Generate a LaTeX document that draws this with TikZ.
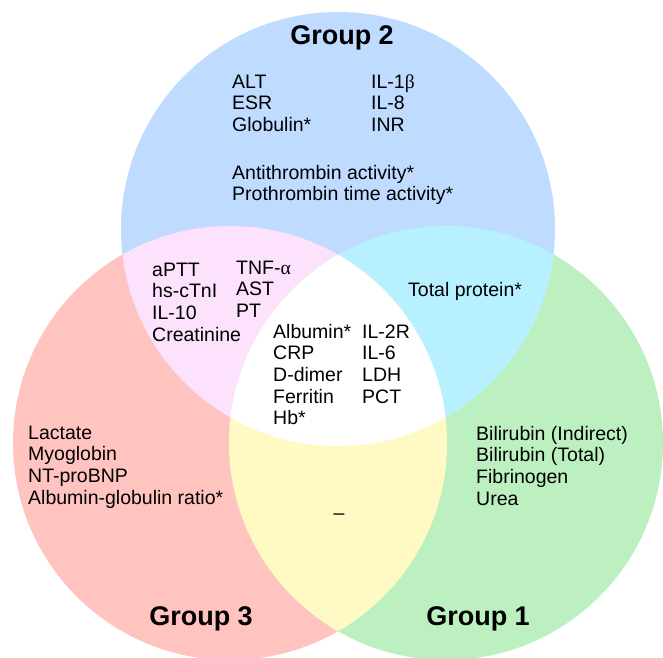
\documentclass[tikz,border=0pt]{standalone}
\usepackage{fontspec}
\setmainfont{Liberation Sans}
\newfontfamily\grkfont{Liberation Serif}

\definecolor{blueii}{RGB}{191,219,255}
\definecolor{rediii}{RGB}{255,196,192}
\definecolor{greeni}{RGB}{189,240,192}
\definecolor{pinkiiiii}{RGB}{252,226,252}
\definecolor{cyanii}{RGB}{183,241,255}
\definecolor{yellowiii}{RGB}{255,250,196}

\begin{document}
\begin{tikzpicture}
  [x=1pt,y=-1pt,
   every node/.style={inner sep=0pt,anchor=base west,align=left,
     font=\fontsize{19.5}{21.7}\selectfont},
   title/.style={anchor=base,font=\fontsize{27}{30}\selectfont\bfseries}]
  \useasboundingbox (0,0) rectangle (663,657);
  \clip (0,0) rectangle (663,657);

  \coordinate (c2) at (338,229);
  \coordinate (c3) at (230,443);
  \coordinate (c1) at (446,443);

  \fill [blueii] (c2) circle (217pt);
  \fill [rediii] (c3) circle (217pt);
  \fill [greeni] (c1) circle (217pt);

  \foreach \from/\to/\col in {c2/c3/pinkiiiii,c2/c1/cyanii,c3/c1/yellowiii}
    {
    \begin{scope}
      \clip (\from) circle (217pt);
      \fill [\col] (\to) circle (217pt);
    \end{scope}
    }
  \begin{scope}
    \clip (c2) circle (217pt);
    \clip (c3) circle (217pt);
    \fill [white] (c1) circle (217pt);
  \end{scope}

  \node [title] (t2) at (342,44) {Group 2};
  \node [title] (t3) at (201,625) {Group 3};
  \node [title] (t1) at (478,625) {Group 1};

  % base = baseline of the last line
  \node (n2a) at (232,131.4) {ALT\\ESR\\Globulin*};
  \node (n2b) at (371,131.4) {IL-1{\grkfont β}\\IL-8\\INR};
  \node (n2c) at (232,200.7) {Antithrombin activity*\\Prothrombin time activity*};
  \node (n23a) at (152,341.1) {aPTT\\hs-cTnI\\IL-10\\Creatinine};
  \node (n23b) at (236,317.4) {TNF-{\grkfont α}\\AST\\PT};
  \node (n12) at (408,296) {Total protein*};
  \node (n123a) at (273,424.8) {Albumin*\\CRP\\D-dimer\\Ferritin\\Hb*};
  \node (n123b) at (362,403.1) {IL-2R\\IL-6\\LDH\\PCT};
  \node (n3) at (28,504.1) {Lactate\\Myoglobin\\NT-proBNP\\Albumin-globulin ratio*};
  \node (n1) at (476,505.1) {Bilirubin (Indirect)\\Bilirubin (Total)\\Fibrinogen\\Urea};
  \node [anchor=base] (n13) at (339,519) {–};

\end{tikzpicture}
\end{document}
